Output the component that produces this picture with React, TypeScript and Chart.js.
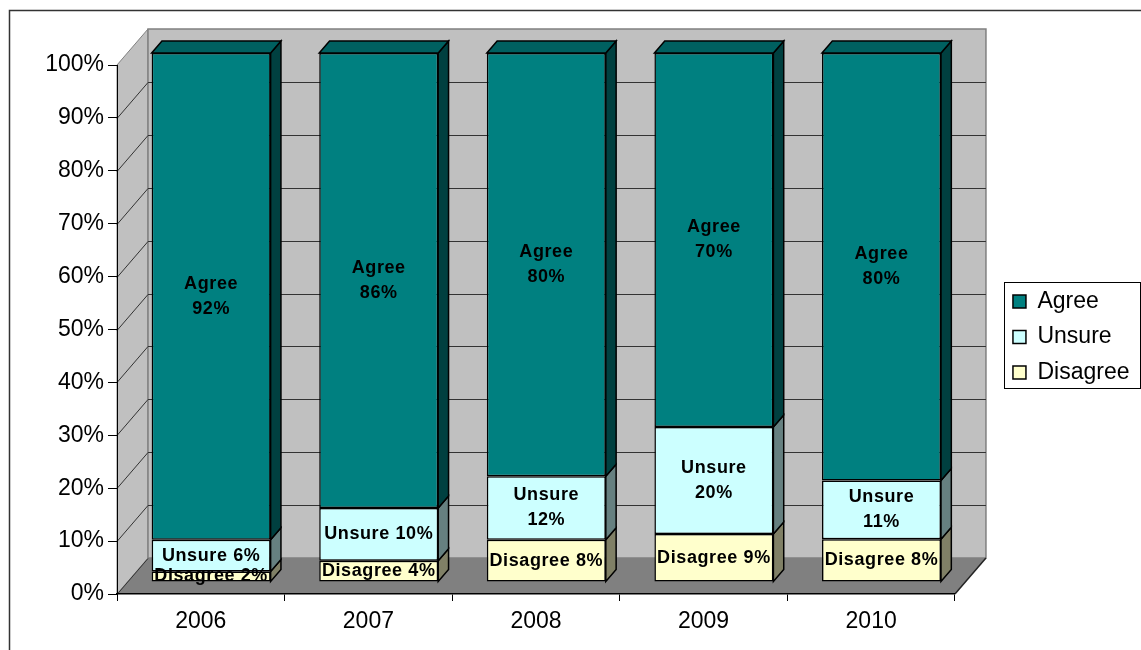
import React, { useEffect, useRef } from 'react';
import { Chart, registerables } from 'chart.js';

Chart.register(...registerables);

// ---- data ----
const categories = ['2006', '2007', '2008', '2009', '2010'];
const agree = [92, 86, 80, 70, 80];
const unsure = [6, 10, 12, 20, 11];
const disagree = [2, 4, 8, 9, 8];
const seriesNames = ['Disagree', 'Unsure', 'Agree'];
// which data labels Excel wrapped onto two lines
const disagreeWrap = [false, false, false, false, false];
const unsureWrap = [false, false, true, true, true];
const agreeWrap = [true, true, true, true, true];

// ---- style ----
const FONT = "'Liberation Sans', Arial, sans-serif";
const fills = ['#FFFFCC', '#CCFFFF', '#008080'];
const sides = ['#808066', '#668080', '#004040'];
const tops = ['#BFBF99', '#99BFBF', '#006060'];
const DX = 31;
const DY = -36;
const FX = DX / 3;
const FY = DY / 3;

const seriesValues = [disagree, unsure, agree];
const wraps = [disagreeWrap, unsureWrap, agreeWrap];
const totals = categories.map((_, i) => agree[i] + unsure[i] + disagree[i]);

function poly(ctx: CanvasRenderingContext2D, pts: number[][], fill: string | null, stroke: string | null, lw = 1) {
  ctx.beginPath();
  ctx.moveTo(pts[0][0], pts[0][1]);
  for (let k = 1; k < pts.length; k++) ctx.lineTo(pts[k][0], pts[k][1]);
  ctx.closePath();
  if (fill) {
    ctx.fillStyle = fill;
    ctx.fill();
  }
  if (stroke) {
    ctx.strokeStyle = stroke;
    ctx.lineWidth = lw;
    ctx.stroke();
  }
}

const threeD = {
  id: 'threeD',
  beforeDraw(chart: any) {
    const { ctx, chartArea: a, scales } = chart;
    const y = scales.y;
    ctx.save();
    // left wall
    poly(ctx, [[a.left, a.top], [a.left + DX, a.top + DY], [a.left + DX, a.bottom + DY], [a.left, a.bottom]], '#C0C0C0', '#808080');
    // back wall
    poly(ctx, [[a.left + DX, a.top + DY], [a.right + DX, a.top + DY], [a.right + DX, a.bottom + DY], [a.left + DX, a.bottom + DY]], '#C0C0C0', '#808080', 1.5);
    // floor
    poly(ctx, [[a.left, a.bottom], [a.left + DX, a.bottom + DY], [a.right + DX, a.bottom + DY], [a.right, a.bottom]], '#808080', null);
    ctx.strokeStyle = '#222';
    ctx.lineWidth = 1.5;
    ctx.beginPath();
    ctx.moveTo(a.right, a.bottom);
    ctx.lineTo(a.right + DX, a.bottom + DY);
    ctx.stroke();
    // gridlines
    ctx.lineWidth = 1;
    for (const t of y.ticks) {
      const v = t.value;
      if (v >= 100) continue;
      const py = Math.round(y.getPixelForValue(v)) + 0.5;
      ctx.strokeStyle = '#333';
      ctx.beginPath();
      ctx.moveTo(a.left, py);
      ctx.lineTo(a.left + DX, py + DY);
      if (v > 0) ctx.lineTo(a.right + DX, py + DY);
      ctx.stroke();
    }
    ctx.restore();
  },
  beforeDatasetsDraw(chart: any) {
    chart.ctx.save();
    chart.ctx.translate(FX, FY);
  },
  afterDatasetsDraw(chart: any) {
    const ctx: CanvasRenderingContext2D = chart.ctx;
    const n = chart.data.datasets.length;
    for (let di = 0; di < n; di++) {
      const meta = chart.getDatasetMeta(di);
      meta.data.forEach((el: any) => {
        const { x, y, base, width } = el.getProps(['x', 'y', 'base', 'width'], true);
        const l = x - width / 2;
        const r = x + width / 2;
        const top = Math.min(y, base);
        const bot = Math.max(y, base);
        poly(ctx, [[r, top], [r + FX, top + FY], [r + FX, bot + FY], [r, bot]], sides[di], '#000', 1.5);
        if (di === n - 1) {
          poly(ctx, [[l, top], [l + FX, top + FY], [r + FX, top + FY], [r, top]], tops[di], '#000', 1.5);
        }
      });
    }
    // data labels
    ctx.fillStyle = '#000';
    ctx.font = `bold 18px ${FONT}`;
    (ctx as any).letterSpacing = '0.6px';
    ctx.textAlign = 'center';
    ctx.textBaseline = 'middle';
    for (let di = 0; di < n; di++) {
      const meta = chart.getDatasetMeta(di);
      meta.data.forEach((el: any, i: number) => {
        const { x, y, base } = el.getProps(['x', 'y', 'base'], true);
        const cy = (y + base) / 2;
        const name = seriesNames[di];
        const val = seriesValues[di][i] + '%';
        if (wraps[di][i]) {
          ctx.fillText(name, x, cy - 12.5);
          ctx.fillText(val, x, cy + 12.5);
        } else {
          ctx.fillText(name + ' ' + val, x, cy);
        }
      });
    }
    (ctx as any).letterSpacing = '0px';
    ctx.restore();
  },
  afterDraw(chart: any) {
    const { ctx } = chart;
    ctx.save();
    const hb = chart.legend && chart.legend.legendHitBoxes;
    if (hb && hb.length) {
      let right = 0;
      for (const h of hb) right = Math.max(right, h.left + h.width);
      const left = hb[0].left - 9;
      const top = hb[0].top - 8;
      const last = hb[hb.length - 1];
      const bottom = last.top + last.height + 4;
      ctx.strokeStyle = '#000';
      ctx.lineWidth = 1;
      ctx.strokeRect(Math.round(left) + 0.5, Math.round(top) + 0.5, Math.round(right + 10 - left), Math.round(bottom - top));
    }
    // outer chart frame
    ctx.strokeStyle = '#333';
    ctx.lineWidth = 1.5;
    ctx.strokeRect(9.5, 10.5, 1200, 700);
    ctx.restore();
  },
};

export default function App() {
  const ref = useRef<HTMLCanvasElement | null>(null);
  useEffect(() => {
    if (!ref.current) return;
    const datasets = seriesValues.map((vals, di) => ({
      label: seriesNames[di],
      data: vals.map((v, i) => (v / totals[i]) * 100),
      backgroundColor: fills[di],
      borderColor: '#000',
      borderWidth: 1.5,
      borderSkipped: false as const,
      barPercentage: 0.71,
      categoryPercentage: 1,
      clip: false as const,
    }));
    const chart = new Chart(ref.current, {
      type: 'bar',
      data: { labels: categories, datasets },
      plugins: [threeD],
      options: {
        responsive: false,
        animation: false,
        devicePixelRatio: 1,
        layout: { padding: { left: 0, top: 65, right: 1.5, bottom: 0 } },
        plugins: {
          tooltip: { enabled: false },
          legend: {
            position: 'right',
            fullSize: false,
            reverse: true,
            title: { display: true, text: ' ', padding: 0, font: { size: 10, lineHeight: '15px' } },
            labels: {
              boxWidth: 13,
              boxHeight: 13,
              padding: 12.5,
              color: '#000',
              font: { family: FONT, size: 23 },
            },
          },
        },
        scales: {
          x: {
            stacked: true,
            offset: true,
            grid: { display: true, drawOnChartArea: false, drawTicks: true, tickLength: 7, tickColor: '#000', offset: true },
            border: { display: true, color: '#000', width: 1.5 },
            ticks: { color: '#000', padding: 7, font: { family: FONT, size: 23 } },
            afterFit: (s: any) => { s.height = 56; },
          },
          y: {
            stacked: true,
            min: 0,
            max: 100,
            grid: { display: true, drawOnChartArea: false, drawTicks: true, tickLength: 9, tickColor: '#000' },
            border: { display: true, color: '#000', width: 1 },
            ticks: {
              stepSize: 10,
              color: '#000',
              padding: 4,
              font: { family: FONT, size: 23 },
              callback: (v: any) => v + '%',
            },
            afterFit: (s: any) => { s.width = 117; },
          },
          yR: {
            type: 'linear',
            position: 'right',
            display: true,
            grid: { display: false, drawTicks: false },
            border: { display: false },
            ticks: { display: false },
            afterFit: (s: any) => { s.width = 45.5; },
          },
        },
      } as any,
    });
    return () => chart.destroy();
  }, []);
  return (
    <div style={{ position: 'absolute', left: 0, top: 0, width: 1141, height: 650, background: '#fff' }}>
      <canvas ref={ref} width={1141} height={650} style={{ display: 'block' }} />
    </div>
  );
}
